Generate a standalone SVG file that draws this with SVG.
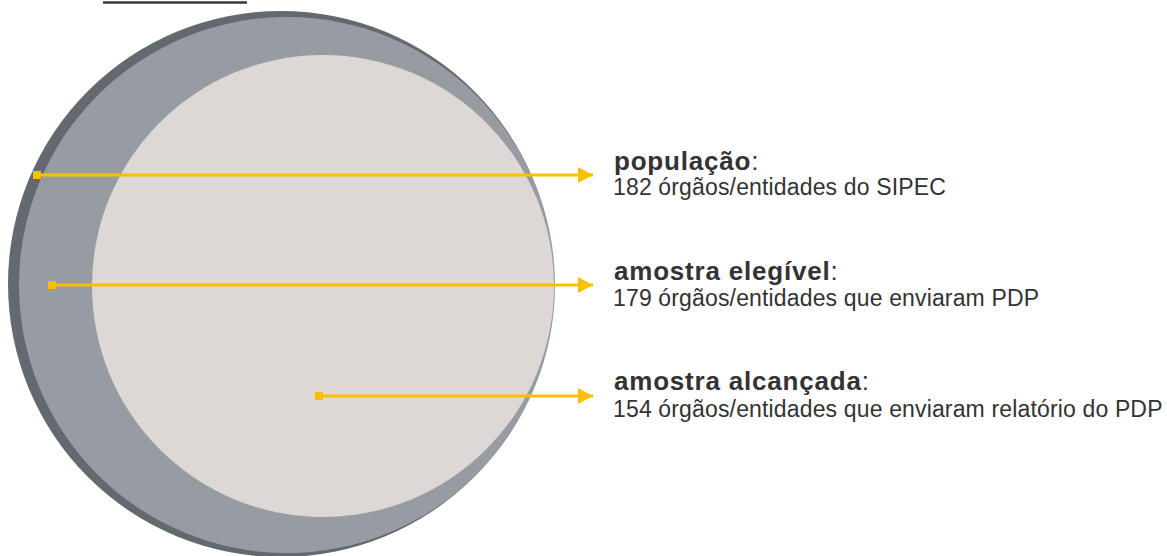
<svg xmlns="http://www.w3.org/2000/svg" width="1167" height="556" viewBox="0 0 1167 556">
  <defs>
    <style>
      .lbl { font-family: "Liberation Sans", Arial, sans-serif; fill: #333333; }
      .b { font-weight: bold; font-size: 26px; letter-spacing: 0.8px; }
      .r { font-size: 23px; letter-spacing: 0.15px; }
      .n { font-weight: normal; }
      .arrow { stroke: #FAC000; stroke-width: 3; fill: none; marker-end: url(#head); marker-start: url(#sq); }
    </style>
    <marker id="head" markerUnits="userSpaceOnUse" markerWidth="16" markerHeight="18" refX="15" refY="8" orient="auto">
      <path d="M0,0 L15,8 L0,16 Z" fill="#FAC000"/>
    </marker>
    <marker id="sq" markerUnits="userSpaceOnUse" markerWidth="8" markerHeight="8" refX="3" refY="4" orient="auto">
      <rect x="0" y="0" width="8" height="8" fill="#FAC000"/>
    </marker>
  </defs>
  <rect width="1167" height="556" fill="#ffffff"/>
  <line x1="103" y1="2.5" x2="247" y2="2.5" stroke="#3a3a3a" stroke-width="2.5"/>
  <g id="populacao-circle">
    <circle cx="281" cy="284" r="273" fill="#636a6f"/>
  </g>
  <g id="elegivel-circle">
    <circle cx="287" cy="285" r="268" fill="#979ca3"/>
  </g>
  <g id="alcancada-circle">
    <circle cx="323" cy="286" r="231" fill="#ddd8d5"/>
  </g>
  <g id="connectors">
    <line class="arrow" x1="36" y1="175" x2="593" y2="175"/>
    <line class="arrow" x1="51" y1="285" x2="593" y2="285"/>
    <line class="arrow" x1="318" y1="396" x2="593" y2="396"/>
  </g>
  <g id="label-populacao">
    <text class="lbl b" x="614" y="170">população<tspan class="n">:</tspan></text>
    <text class="lbl r" x="613" y="195">182 órgãos/entidades do SIPEC</text>
  </g>
  <g id="label-elegivel">
    <text class="lbl b" x="614" y="280">amostra elegível<tspan class="n">:</tspan></text>
    <text class="lbl r" x="613" y="306">179 órgãos/entidades que enviaram PDP</text>
  </g>
  <g id="label-alcancada">
    <text class="lbl b" x="614" y="390">amostra alcançada<tspan class="n">:</tspan></text>
    <text class="lbl r" x="613" y="417">154 órgãos/entidades que enviaram relatório do PDP</text>
  </g>
</svg>
